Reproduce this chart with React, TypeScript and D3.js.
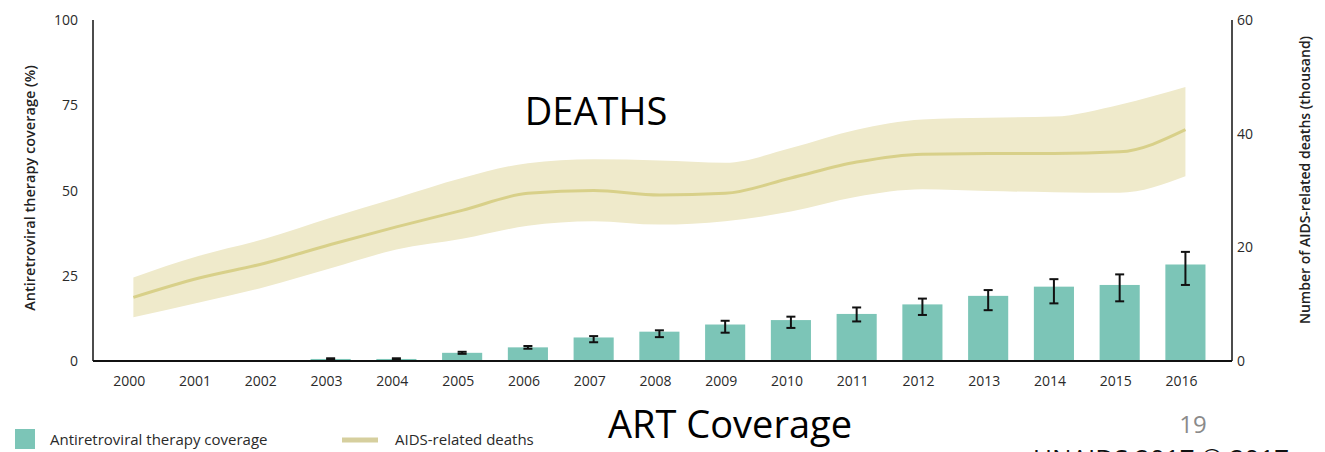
import React from "react";
import * as d3 from "d3";

const years = ["2000","2001","2002","2003","2004","2005","2006","2007","2008","2009","2010","2011","2012","2013","2014","2015","2016"];
// ART coverage (%)
const coverage = [0, 0, 0, 0.6, 0.6, 2.4, 4.0, 6.9, 8.6, 10.7, 12.0, 13.8, 16.6, 19.1, 21.8, 22.3, 28.3];
const coverageLow = [0, 0, 0, 0.4, 0.4, 2.1, 3.6, 5.5, 7.0, 8.3, 9.7, 11.6, 13.5, 14.9, 16.9, 17.5, 22.3];
const coverageHigh = [0, 0, 0, 0.8, 0.8, 2.7, 4.4, 7.3, 9.0, 11.8, 13.0, 15.7, 18.3, 20.8, 24.0, 25.4, 32.0];
// AIDS-related deaths (thousand)
const deaths = [11.2, 14.6, 17.2, 20.5, 23.6, 26.5, 29.5, 30.0, 29.2, 29.5, 32.2, 35.0, 36.4, 36.5, 36.5, 36.8, 40.7];
const deathsLow = [7.7, 10.3, 13.0, 16.3, 19.6, 21.5, 23.8, 24.6, 24.0, 24.6, 26.3, 28.9, 30.2, 29.9, 29.7, 29.6, 32.5];
const deathsHigh = [14.7, 18.5, 21.5, 25.2, 28.7, 32.2, 34.8, 35.5, 35.3, 34.9, 37.5, 40.7, 42.5, 42.8, 43.0, 45.1, 48.2];
const leftTicks = [0, 25, 50, 75, 100];
const rightTicks = [0, 20, 40, 60];

const W = 1325, H = 452;
const axL = 93, axR = 1232, axTop = 20, axBot = 361;

export default function App() {
  const x = d3.scaleBand<string>().domain(years).range([100.5, 1218.3]).paddingInner(0.39).paddingOuter(0.195);
  const yL = d3.scaleLinear().domain([0, 100]).range([axBot, axTop]);
  const yR = d3.scaleLinear().domain([0, 60]).range([axBot, axTop]);
  const cx = (i: number) => (x(years[i]) as number) + x.bandwidth() / 2;
  const idx = years.map((_, i) => i);

  const area = d3.area<number>().x((i) => cx(i)).y0((i) => yR(deathsLow[i])).y1((i) => yR(deathsHigh[i])).curve(d3.curveMonotoneX);
  const line = d3.line<number>().x((i) => cx(i)).y((i) => yR(deaths[i])).curve(d3.curveMonotoneX);

  const font = "'Open Sans', sans-serif";
  const tick = { fontFamily: font, fontSize: 14, fill: "#2a2a2a" };
  const leg = { fontFamily: font, fontSize: 15, fill: "#2a2a2a" };
  const big = { fontFamily: font, fontSize: 38, fill: "#000" };

  return (
    <svg width={W} height={H} style={{ position: "absolute", left: 0, top: 0, background: "#fff" }}>
      <rect x={0} y={0} width={W} height={H} fill="#fff" />
      {/* deaths band */}
      <path d={area(idx) || ""} fill="#efeacb" />
      <path d={line(idx) || ""} fill="none" stroke="#d8d089" strokeWidth={3} />
      {/* bars */}
      {idx.map((i) =>
        coverage[i] > 0 ? (
          <rect key={"b" + i} x={x(years[i])} y={yL(coverage[i])} width={x.bandwidth()} height={yL(0) - yL(coverage[i])} fill="#7cc5b7" />
        ) : null
      )}
      {/* error bars */}
      {idx.map((i) =>
        coverage[i] > 0 ? (
          <g key={"e" + i} stroke="#111" strokeWidth={2}>
            <line x1={cx(i)} x2={cx(i)} y1={yL(coverageLow[i])} y2={yL(coverageHigh[i])} />
            <line x1={cx(i) - 4.5} x2={cx(i) + 4.5} y1={yL(coverageLow[i])} y2={yL(coverageLow[i])} />
            <line x1={cx(i) - 4.5} x2={cx(i) + 4.5} y1={yL(coverageHigh[i])} y2={yL(coverageHigh[i])} />
          </g>
        ) : null
      )}
      {/* axes */}
      <line x1={axL} x2={axL} y1={axTop} y2={axBot} stroke="#111" strokeWidth={1.5} />
      <line x1={axR} x2={axR} y1={axTop} y2={axBot} stroke="#111" strokeWidth={1.5} />
      <line x1={axL} x2={axR} y1={axBot} y2={axBot} stroke="#111" strokeWidth={1.8} />
      {leftTicks.map((t) => (
        <text key={"l" + t} x={78} y={yL(t) + 5} textAnchor="end" {...tick}>{t}</text>
      ))}
      {rightTicks.map((t) => (
        <text key={"r" + t} x={1237} y={yR(t) + 5} textAnchor="start" {...tick}>{t}</text>
      ))}
      {years.map((yv, i) => (
        <text key={"x" + yv} x={cx(i) - 4} y={386} textAnchor="middle" {...tick}>{yv}</text>
      ))}
      <text transform={`translate(35,${188}) rotate(-90)`} textAnchor="middle" fontFamily={font} fontSize={14.5} fontWeight={600} fill="#222">Antiretroviral therapy coverage (%)</text>
      <text transform={`translate(1310,180) rotate(-90)`} textAnchor="middle" fontFamily={font} fontSize={14} fontWeight={600} fill="#222">Number of AIDS-related deaths (thousand)</text>
      {/* legend */}
      <rect x={15} y={429} width={20} height={20} fill="#7cc5b7" />
      <text x={50} y={445} {...leg}>Antiretroviral therapy coverage</text>
      <line x1={342} x2={378} y1={440} y2={440} stroke="#d6cf9e" strokeWidth={5} />
      <text x={395} y={445} {...leg}>AIDS-related deaths</text>
      {/* slide texts */}
      <text x={596} y={125} textAnchor="middle" {...big}>DEATHS</text>
      <text x={730} y={438} textAnchor="middle" {...big}>ART Coverage</text>
      <text x={1193} y={433} textAnchor="middle" fontFamily={font} fontSize={24} fill="#8a8a8a">19</text>
      <text x={1033} y={468} fontFamily={font} fontSize={26} fill="#111">UNAIDS 2017 © 2017</text>
    </svg>
  );
}
